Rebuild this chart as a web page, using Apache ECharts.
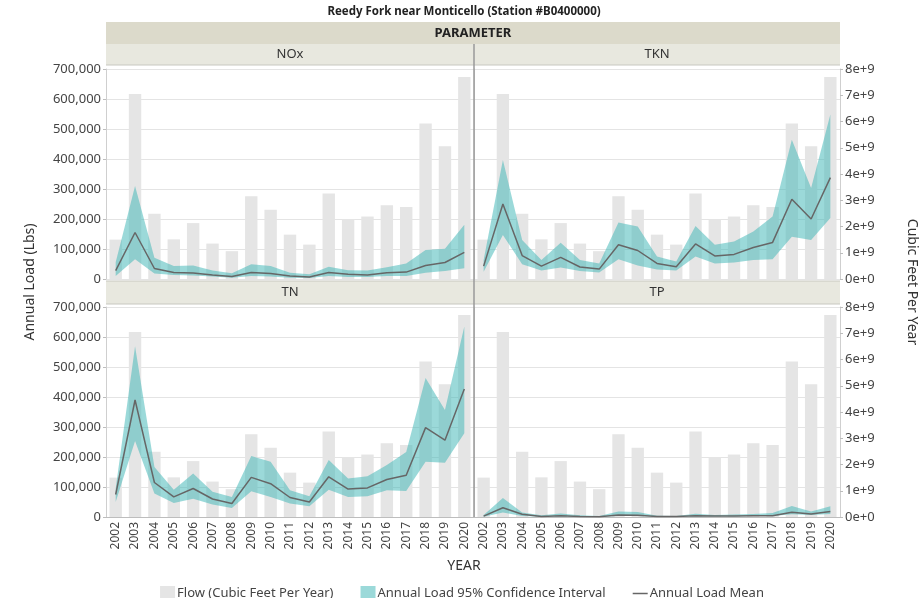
<!DOCTYPE html>
<html><head><meta charset="utf-8">
<script src="https://cdn.jsdelivr.net/npm/echarts@6/dist/echarts.min.js"></script>
<style>html,body{margin:0;padding:0;background:#fff}#c{width:924px;height:598px}</style>
</head><body><div id="c"></div>
<script>
const years = ['2002','2003','2004','2005','2006','2007','2008','2009','2010','2011','2012','2013','2014','2015','2016','2017','2018','2019','2020'];
// Flow (cubic feet per year)
const flow = [1.50e9,7.05e9,2.49e9,1.51e9,2.13e9,1.35e9,1.06e9,3.15e9,2.64e9,1.69e9,1.31e9,3.26e9,2.28e9,2.38e9,2.81e9,2.74e9,5.92e9,5.06e9,7.70e9];
// Annual loads (lbs)
const noxMean = [28000,155000,35000,22000,20000,13000,8000,22000,18000,10000,7000,22000,16000,13000,21000,23000,45000,55000,89000];
const noxLow  = [10000,66000,18000,13000,12000,8000,4000,10000,8000,4000,3000,10000,7000,7000,10000,10000,21000,27000,36000];
const noxHigh = [56000,310000,71000,43000,45000,28000,19000,49000,43000,21000,16000,41000,29000,28000,39000,52000,97000,101000,181000];
const tknMean = [43000,250000,78000,43000,72000,40000,33000,114000,95000,52000,41000,117000,77000,82000,105000,122000,266000,200000,338000];
const tknLow  = [24000,147000,49000,28000,38000,27000,22000,66000,45000,32000,28000,75000,52000,55000,63000,66000,141000,130000,203000];
const tknHigh = [63000,397000,130000,63000,121000,63000,52000,188000,175000,75000,58000,177000,114000,125000,158000,208000,464000,303000,548000];
const tnMean  = [75000,390000,115000,67000,95000,60000,45000,132000,111000,65000,50000,134000,93000,97000,125000,139000,298000,256000,427000];
const tnLow   = [50000,253000,78000,47000,61000,42000,30000,86000,67000,45000,36000,91000,67000,69000,89000,87000,184000,181000,279000];
const tnHigh  = [95000,569000,167000,91000,145000,84000,67000,203000,184000,89000,69000,190000,128000,136000,173000,217000,463000,357000,635000];
const tpMean  = [3000,31000,9000,2000,4000,2000,1000,7000,6000,2000,2000,4000,3000,3000,4000,4000,16000,10000,18000];
const tpLow   = [1000,15000,3000,1000,2000,1000,500,3000,3000,1000,1000,2000,2000,2000,3000,3000,9000,7000,10000];
const tpHigh  = [7000,63000,15000,6000,12000,6000,3000,18000,17000,4000,3000,11000,7000,8000,10000,13000,37000,18000,36000];
const parameters = ['NOx','TKN','TN','TP'];
const loadMax = 700000, loadStep = 100000;
const flowMax = 8e9, flowStep = 1e9;

const FONT = 'Noto Sans';
const TEAL = 'rgba(64,182,182,0.52)';
const GRAY = '#e5e5e5';
const TXT = '#444';

const panels = [
  {name:'NOx', mean:noxMean, low:noxLow, high:noxHigh, left:106, top:69, width:368, col:0, row:0},
  {name:'TKN', mean:tknMean, low:tknLow, high:tknHigh, left:474, top:69, width:366, col:1, row:0},
  {name:'TN',  mean:tnMean,  low:tnLow,  high:tnHigh,  left:106, top:307, width:368, col:0, row:1},
  {name:'TP',  mean:tpMean,  low:tpLow,  high:tpHigh,  left:474, top:307, width:366, col:1, row:1}
];

const grid=[], xAxis=[], yAxis=[], series=[];
panels.forEach((p,i)=>{
  grid.push({left:p.left, top:p.top, width:p.width, height:210, containLabel:false});
  xAxis.push({type:'category', gridIndex:i, data:years, boundaryGap:true,
    axisLine:{show:p.row===1, lineStyle:{color:'#bdbdbd'}},
    axisTick:{show:false},
    axisLabel:{show:p.row===1, interval:0, rotate:90, fontFamily:FONT, fontSize:12, color:TXT, margin:5}
  });
  yAxis.push({type:'value', gridIndex:i, min:0, max:loadMax, interval:loadStep, position:'left',
    axisLine:{show:true, lineStyle:{color:'#cfcfcf'}},
    axisTick:{show:p.col===0, length:3, lineStyle:{color:'#bdbdbd'}},
    splitLine:{show:true, lineStyle:{color:'#e4e4e4'}},
    axisLabel:{show:p.col===0, fontFamily:FONT, fontSize:13, color:TXT, margin:5,
      formatter:v=>v.toLocaleString('en-US')}
  });
  yAxis.push({type:'value', gridIndex:i, min:0, max:flowMax, interval:flowStep, position:'right',
    axisLine:{show:p.col===1, lineStyle:{color:'#cfcfcf'}},
    axisTick:{show:p.col===1, length:3, lineStyle:{color:'#bdbdbd'}},
    splitLine:{show:false},
    axisLabel:{show:p.col===1, fontFamily:FONT, fontSize:13, color:TXT, margin:5,
      formatter:v=> v===0 ? '0e+0' : Math.round(v/1e9)+'e+9'}
  });
  series.push({type:'bar', name:'Flow (Cubic Feet Per Year)', xAxisIndex:i, yAxisIndex:2*i+1,
    data:flow, barWidth:'64%', itemStyle:{color:GRAY}, silent:true, z:1});
  series.push({type:'line', name:'low'+i, xAxisIndex:i, yAxisIndex:2*i, stack:'ci'+i,
    data:p.low, symbol:'none', lineStyle:{opacity:0}, silent:true, z:2});
  series.push({type:'line', name:'Annual Load 95% Confidence Interval', xAxisIndex:i, yAxisIndex:2*i, stack:'ci'+i,
    data:p.high.map((h,k)=>h-p.low[k]), symbol:'none', lineStyle:{opacity:0}, itemStyle:{color:TEAL},
    areaStyle:{color:TEAL, opacity:1}, silent:true, z:2});
  series.push({type:'line', name:'Annual Load Mean', xAxisIndex:i, yAxisIndex:2*i,
    data:p.mean, symbol:'none', lineStyle:{color:'#666', width:1.5}, itemStyle:{color:'#666'}, silent:true, z:3});
});

const graphic = [
  {type:'rect', shape:{x:106, y:22, width:734, height:22}, style:{fill:'#dcdacb'}},
  {type:'text', x:473, y:33, style:{text:'PARAMETER', fontFamily:FONT, fontWeight:'bold', fontSize:13, fill:'#222', textAlign:'center', textVerticalAlign:'middle'}},
  {type:'text', x:464, y:12, style:{text:'Reedy Fork near Monticello (Station #B0400000)', fontFamily:FONT, fontWeight:'bold', fontSize:11.5, fill:'#222', textAlign:'center', textVerticalAlign:'middle'}},
  {type:'text', x:30, y:282, rotation:Math.PI/2, style:{text:'Annual Load (Lbs)', fontFamily:FONT, fontSize:14, fill:'#333', textAlign:'center', textVerticalAlign:'middle'}},
  {type:'text', x:912, y:282, rotation:-Math.PI/2, style:{text:'Cubic Feet Per Year', fontFamily:FONT, fontSize:14, fill:'#333', textAlign:'center', textVerticalAlign:'middle'}},
  {type:'text', x:464, y:566, style:{text:'YEAR', fontFamily:FONT, fontSize:14, fill:'#333', textAlign:'center', textVerticalAlign:'middle'}}
];
const hdr = [
  {x:106, y:44, w:368, h:21},
  {x:474, y:44, w:366, h:21},
  {x:106, y:281, w:368, h:23},
  {x:474, y:281, w:366, h:23}
];
hdr.forEach((h,i)=>{
  graphic.push({type:'rect', shape:{x:h.x, y:h.y, width:h.w, height:h.h}, style:{fill:'#e8e8df'}});
  graphic.push({type:'line', shape:{x1:h.x, y1:h.y+h.h, x2:h.x+h.w, y2:h.y+h.h}, style:{stroke:'#c8c8c0', lineWidth:1}});
  graphic.push({type:'text', x:h.x+h.w/2, y:h.y+h.h/2, style:{text:parameters[i], fontFamily:FONT, fontSize:13, fill:'#333', textAlign:'center', textVerticalAlign:'middle'}});
});
graphic.push({type:'line', shape:{x1:106, y1:281, x2:840, y2:281}, style:{stroke:'#c8c8c0', lineWidth:1}});
graphic.push({type:'line', z:100, shape:{x1:474, y1:44, x2:474, y2:517}, style:{stroke:'#9a9a9a', lineWidth:1.5}});

const option = {
  animation:false,
  backgroundColor:'#fff',
  grid, xAxis, yAxis, series, graphic,
  legend:{
    left:'center', top:581, itemWidth:15, itemHeight:15, itemGap:27,
    textStyle:{fontFamily:FONT, fontSize:13, color:TXT, padding:[0,0,0,-3]},
    data:[
      {name:'Flow (Cubic Feet Per Year)', icon:'rect', itemStyle:{color:GRAY}},
      {name:'Annual Load 95% Confidence Interval', icon:'rect', itemStyle:{color:TEAL}},
      {name:'Annual Load Mean', icon:'path://M0,0H16V1.6H0Z', itemStyle:{color:'#666'}}
    ]
  }
};
const chart = echarts.init(document.getElementById('c'), null, {renderer:'canvas'});
chart.setOption(option);
</script></body></html>
